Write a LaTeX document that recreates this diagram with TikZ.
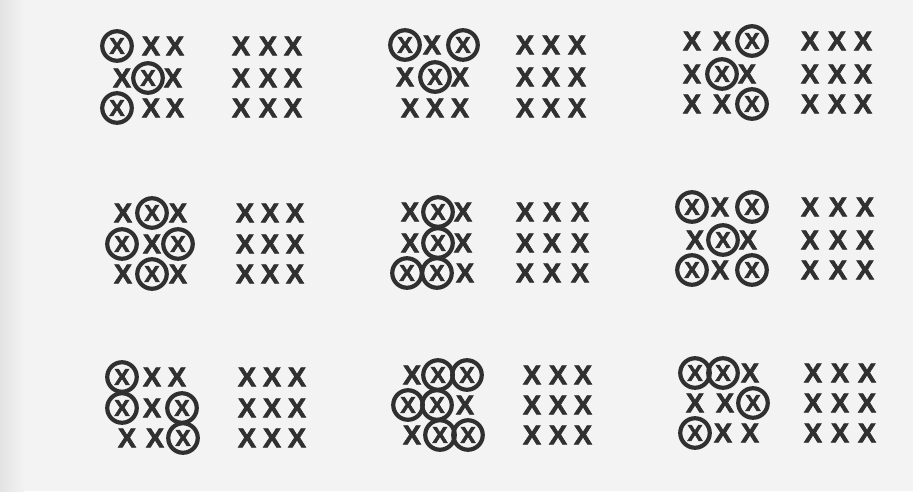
\documentclass[tikz,border=0pt]{standalone}
\usepackage{fontspec}
\setmainfont{Liberation Sans}
\newfontfamily\xfont{Liberation Sans}[UprightFont=*-Bold, FakeBold=2.6]
\definecolor{ink}{HTML}{303030}
\definecolor{paper}{HTML}{F3F3F3}
\begin{document}
\begin{tikzpicture}[x=1pt,y=-1pt,
  xm/.style={inner sep=0pt, text=ink, font=\xfont\fontsize{27}{27}\selectfont},
  xc/.style={xm, circle, draw=ink, line width=4.2pt, minimum size=29.5pt, font=\xfont\fontsize{23}{23}\selectfont}]
\fill[paper] (0,0) rectangle (913,491);
\useasboundingbox (0,0) rectangle (913,491);
\shade[left color=gray!22, right color=paper] (0,0) rectangle (24,491);
% left grids (circled patterns)
\foreach \n/\x/\y/\s in {
  a11/117/46/xc, a12/151/46/xm, a13/175/46/xm,
  a21/122/78/xm, a22/148/78/xc, a23/173/78/xm,
  a31/117/108/xc, a32/151/108/xm, a33/175/108/xm,
  b11/405/45/xc, b12/432/45/xm, b13/463/45/xc,
  b21/405/77/xm, b22/435/77/xc, b23/460/77/xm,
  b31/410/108/xm, b32/435/108/xm, b33/460/108/xm,
  c11/692/41/xm, c12/722/41/xm, c13/752/41/xc,
  c21/692/74/xm, c22/722/74/xc, c23/747/74/xm,
  c31/692/104/xm, c32/722/104/xm, c33/752/104/xc,
  d11/123/213/xm, d12/152/213/xc, d13/178/213/xm,
  d21/122/244/xc, d22/152/244/xm, d23/178/244/xc,
  d31/123/274/xm, d32/152/274/xc, d33/178/274/xm,
  e11/410/212/xm, e12/438/212/xc, e13/463/212/xm,
  e21/410/243/xm, e22/438/243/xc, e23/463/243/xm,
  e31/407/273/xc, e32/437/273/xc, e33/465/273/xm,
  f11/692/207/xc, f12/720/207/xm, f13/752/207/xc,
  f21/695/240/xm, f22/723/240/xc, f23/748/240/xm,
  f31/692/270/xc, f32/720/270/xm, f33/752/270/xc,
  g11/122/377/xc, g12/152/377/xm, g13/177/377/xm,
  g21/122/408/xc, g22/152/408/xm, g23/182/408/xc,
  g31/127/438/xm, g32/155/438/xm, g33/183/438/xc,
  h11/412/375/xm, h12/438/375/xc, h13/467/375/xc,
  h21/408/405/xc, h22/437/405/xc, h23/465/405/xm,
  h31/412/435/xm, h32/440/435/xc, h33/468/435/xc,
  i11/695/373/xc, i12/723/373/xc, i13/750/373/xm,
  i21/695/403/xm, i22/725/403/xm, i23/753/403/xc,
  i31/695/433/xc, i32/723/433/xm, i33/750/433/xm}
  \node[\s] (\n) at (\x,\y) {X};
% right grids (plain 3x3)
\foreach \g/\pa/\pb/\pc/\qa/\qb/\qc in {
  a/241/268/293/46/78/108,
  b/525/551/577/45/77/108,
  c/810/837/863/41/74/104,
  d/245/270/295/213/244/274,
  e/525/552/580/212/243/273,
  f/810/838/865/207/240/270,
  g/247/272/297/377/408/438,
  h/532/558/583/375/405/435,
  i/813/840/867/373/403/433}
{
  \foreach \cx [count=\i] in {\pa,\pb,\pc}
    \foreach \cy [count=\j] in {\qa,\qb,\qc}
      \node[xm] (r\g\j\i) at (\cx,\cy) {X};
}
\end{tikzpicture}
\end{document}
